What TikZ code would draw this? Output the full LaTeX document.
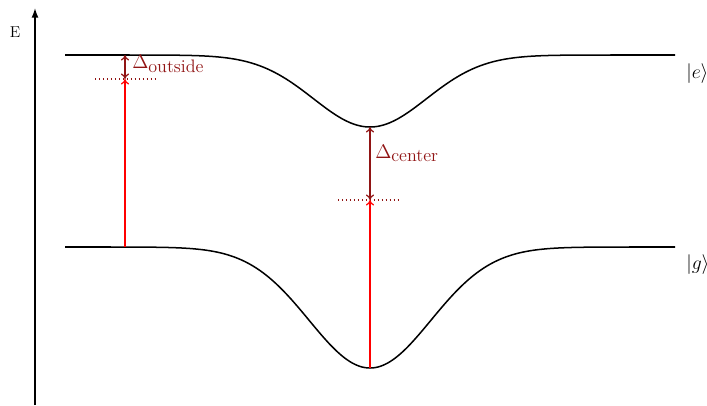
\documentclass[tikz,border=0pt]{standalone}
\usetikzlibrary{arrows.meta}
\definecolor{dred}{RGB}{145,20,20}
\newcommand{\subtxt}[1]{\raisebox{-0.45ex}{\fontsize{13.2}{15}\selectfont #1}}
\begin{document}
\begin{tikzpicture}[x=0.73pt,y=-0.73pt,
  level/.style={line width=1.1pt,black},
  axis/.style={line width=1pt,-{Latex[length=7pt,width=5pt]}},
  pump/.style={red,line width=0.9pt,-{To[length=4pt,width=6pt]}},
  detune/.style={dred,line width=0.9pt,{To[length=4pt,width=6pt]}-{To[length=4pt,width=6pt]}},
  dotline/.style={dred,line width=0.9pt,dotted},
  lbl/.style={inner sep=0pt},
  state/.style={inner sep=0pt,anchor=west,font=\Large}]
\useasboundingbox (0,0) rectangle (707,406);
% axis
\coordinate (ax0) at (35,405);
\coordinate (ax1) at (35,8);
\draw[axis] (ax0) -- (ax1);
\node[lbl,font=\fontsize{11.5}{13}\selectfont] (E) at (15,32) {E};
% levels
\draw[level] plot[domain=65:675,samples=241] ({\x},{55+72*exp(-((\x-370)/80)^2)});
\draw[level] plot[domain=65:675,samples=241] ({\x},{247+121*exp(-((\x-370)/86)^2)});
\node[state] (e) at (686,74) {$|e\rangle$};
\node[state] (g) at (686,265) {$|g\rangle$};
% outside
\coordinate (og) at (125,247);
\coordinate (od) at (125,79);
\coordinate (oe) at (125,55);
\coordinate (odl) at (95,79);
\coordinate (odr) at (156,79);
\draw[dotline] (odl) -- (odr);
\draw[pump] (og) -- (od);
\draw[detune] (oe) -- (od);
\node[lbl,anchor=base west,text=dred] (dout) at (132,69) {\Large$\Delta$\subtxt{outside}};
% center
\coordinate (cg) at (370,368);
\coordinate (cd) at (370,200);
\coordinate (ce) at (370,127);
\coordinate (cdl) at (338,200);
\coordinate (cdr) at (400,200);
\draw[dotline] (cdl) -- (cdr);
\draw[pump] (cg) -- (cd);
\draw[detune] (ce) -- (cd);
\node[lbl,anchor=base west,text=dred] (dcen) at (375,158) {\Large$\Delta$\subtxt{center}};
\end{tikzpicture}
\end{document}
